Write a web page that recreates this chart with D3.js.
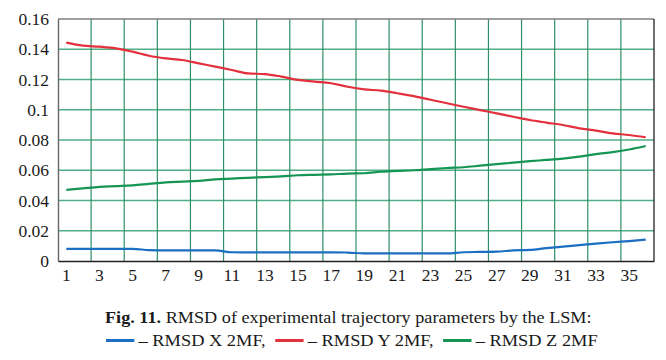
<!DOCTYPE html>
<html><head><meta charset="utf-8">
<script src="https://cdn.jsdelivr.net/npm/d3@7"></script>
<style>
body{margin:0;background:#fff}
svg{display:block}
svg text{font-family:"Liberation Serif","Times New Roman",serif !important;fill:#1a1a1a}
</style>
</head><body>
<svg id="chart" width="666" height="360"></svg>
<script>
const categories = d3.range(1, 37);
const rmsdX = [0.008,0.008,0.008,0.008,0.008,0.0072,0.007,0.007,0.007,0.007,0.0058,0.0057,0.0057,0.0057,0.0057,0.0057,0.0057,0.0056,0.005,0.005,0.005,0.005,0.005,0.005,0.0058,0.006,0.0062,0.007,0.0073,0.0085,0.0095,0.0105,0.0115,0.0124,0.0132,0.0141];
const rmsdY = [0.1444,0.1424,0.1417,0.1406,0.1384,0.1357,0.134,0.1329,0.1307,0.1285,0.1263,0.124,0.1236,0.1219,0.1197,0.1186,0.1175,0.1152,0.1135,0.1126,0.1109,0.109,0.1066,0.1043,0.102,0.0998,0.0976,0.0954,0.0932,0.0915,0.0899,0.0877,0.0862,0.0844,0.0833,0.0818];
const rmsdZ = [0.047,0.048,0.049,0.0495,0.050,0.051,0.052,0.0525,0.053,0.054,0.0545,0.055,0.0555,0.056,0.0567,0.057,0.0573,0.0578,0.058,0.059,0.0596,0.060,0.0608,0.0615,0.062,0.063,0.064,0.065,0.066,0.0668,0.0677,0.069,0.0707,0.072,0.0737,0.076];
const yTicks = [0,0.02,0.04,0.06,0.08,0.1,0.12,0.14,0.16];
const xTickLabels = categories.filter(d => d % 2 === 1);
const seriesNames = ["RMSD X 2MF","RMSD Y 2MF","RMSD Z 2MF"];
const seriesColors = ["#1b6fc2","#e2303c","#159553"];

const svg = d3.select("#chart");
const L = 58, R = 654, T = 19, B = 261;

const x = d3.scaleBand().domain(categories).range([L, R]).padding(0);
const xc = d => x(d) + x.bandwidth() / 2;
const y = d3.scaleLinear().domain([0, 0.16]).range([B, T]);

// horizontal grid
svg.append("g").selectAll("line").data(yTicks.filter(d => d > 0 && d < 0.16)).join("line")
  .attr("x1", L).attr("x2", R).attr("y1", d => y(d)).attr("y2", d => y(d))
  .attr("stroke", "#4fae86").attr("stroke-width", 1.4);
// vertical grid at every second category boundary
const vb = categories.filter(d => d % 2 === 0 && d < 36);
svg.append("g").selectAll("line").data(vb).join("line")
  .attr("x1", d => x(d) + x.bandwidth()).attr("x2", d => x(d) + x.bandwidth())
  .attr("y1", T).attr("y2", B)
  .attr("stroke", "#2f8f68").attr("stroke-width", 1.2);

// borders
svg.append("line").attr("x1", L).attr("x2", R).attr("y1", T).attr("y2", T).attr("stroke", "#7f7f7f").attr("stroke-width", 1.5);
svg.append("line").attr("x1", R).attr("x2", R).attr("y1", T).attr("y2", B).attr("stroke", "#222").attr("stroke-width", 1.3);

// axes
const yAxis = d3.axisLeft(y).tickValues(yTicks).tickSize(0).tickPadding(9)
  .tickFormat(d => d === 0 ? "0" : String(+d.toFixed(2)));
const gy = svg.append("g").attr("transform", `translate(${L},0)`).call(yAxis);
gy.attr("font-family", null).attr("font-size", "17.5");
gy.select(".domain").attr("stroke", "#666").attr("stroke-width", 1.4);

const xAxis = d3.axisBottom(x).tickValues(xTickLabels).tickSize(0).tickPadding(8);
const gx = svg.append("g").attr("transform", `translate(0,${B})`).call(xAxis);
gx.attr("font-family", null).attr("font-size", "17.5");
gx.select(".domain").attr("stroke", "#222").attr("stroke-width", 1.3);

// lines
const line = d3.line().x((d, i) => xc(categories[i])).y(d => y(d)).curve(d3.curveMonotoneX);
[rmsdX, rmsdY, rmsdZ].forEach((s, i) => {
  svg.append("path").datum(s).attr("d", line).attr("fill", "none")
    .attr("stroke", seriesColors[i]).attr("stroke-width", 2.2);
});

// caption helpers: fit a group horizontally into [x0, x1]
function fit(g, x0, x1) {
  const bb = g.node().getBBox();
  const s = (x1 - x0) / bb.width;
  g.attr("transform", `translate(${x0},0) scale(${s},1) translate(${-bb.x},0)`);
}

const cap1g = svg.append("g");
const cap1 = cap1g.append("text").attr("x", 0).attr("y", 323).attr("font-size", 17.5);
cap1.append("tspan").attr("font-weight", "bold").text("Fig. 11.");
cap1.append("tspan").text(" RMSD of experimental trajectory parameters by the LSM:");
fit(cap1g, 105, 592);

const cap2 = svg.append("g");
let cx = 0;
const cy = 346;
seriesNames.forEach((n, i) => {
  cap2.append("line").attr("x1", cx).attr("x2", cx + 27).attr("y1", cy - 5.5).attr("y2", cy - 5.5)
    .attr("stroke", seriesColors[i]).attr("stroke-width", 3);
  const t = cap2.append("text").attr("x", cx + 31).attr("y", cy).attr("font-size", 17.5)
    .text("– " + n + (i < 2 ? "," : ""));
  cx += 31 + t.node().getComputedTextLength() + 9;
});
fit(cap2, 106, 598);
</script>
</body></html>
